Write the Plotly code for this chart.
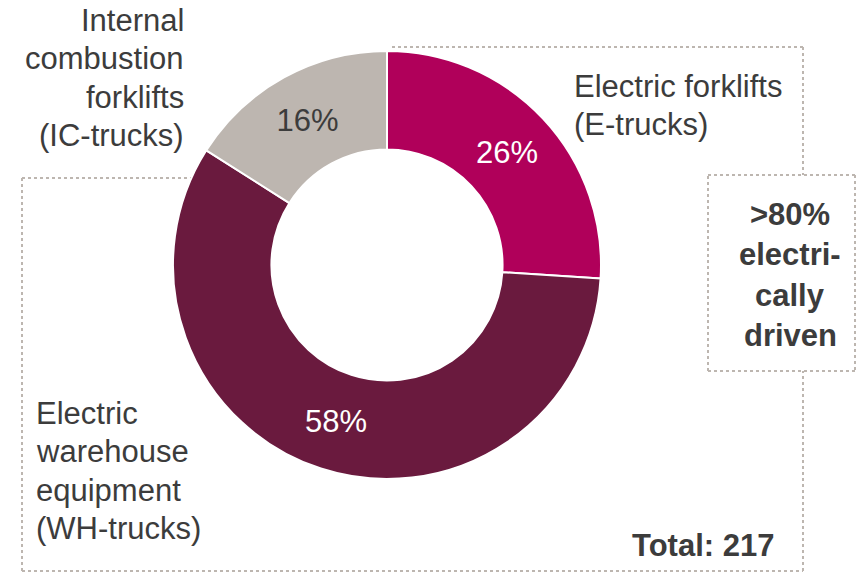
import plotly.graph_objects as go

W, H = 856, 574

categories = ["Electric forklifts (E-trucks)", "Electric warehouse equipment (WH-trucks)",
              "Internal combustion forklifts (IC-trucks)"]
shares = [26, 58, 16]
colors = ["#B0005A", "#6A1A3E", "#BDB6B0"]
label_colors = ["white", "white", "#3C3C3C"]
total_text = "Total: 217"
callout_lines = [">80%", "electri-", "cally", "driven"]
ic_lines = ["Internal", "combustion", "forklifts", "(IC-trucks)"]
e_lines = ["Electric forklifts", "(E-trucks)"]
wh_lines = ["Electric", "warehouse", "equipment", "(WH-trucks)"]

FONT = "Liberation Sans, Arial, sans-serif"
TXT = "#3C3C3C"
LINE = "#BDB6B0"

def px(x):
    return x / W

def py(y):
    return 1 - y / H

cx, cy, r = 387, 265, 214

fig = go.Figure(go.Pie(
    labels=categories,
    values=shares,
    text=[f"{v}%" for v in shares],
    textinfo="text",
    textposition="inside",
    insidetextorientation="horizontal",
    insidetextfont=dict(family=FONT, size=31, color=label_colors),
    marker=dict(colors=colors, line=dict(color="white", width=2)),
    hole=0.54,
    sort=False,
    direction="clockwise",
    rotation=0,
    showlegend=False,
    domain=dict(x=[px(cx - r), px(cx + r)], y=[py(cy + r), py(cy - r)]),
))

shapes = []
def seg(x0, y0, x1, y1):
    shapes.append(dict(type="line", xref="paper", yref="paper",
                       x0=px(x0), y0=py(y0), x1=px(x1), y1=py(y1),
                       line=dict(color=LINE, width=2, dash="dot"), layer="below"))

seg(22, 178, 192, 178)
seg(22, 178, 22, 571)
seg(22, 571, 803, 571)
seg(803, 571, 803, 371)
seg(392, 47, 803, 47)
seg(803, 47, 803, 175)
seg(708, 175, 855, 175)
seg(855, 175, 855, 371)
seg(855, 371, 708, 371)
seg(708, 371, 708, 175)

annotations = []
def txt(s, x, y, anchor, bold=False):
    annotations.append(dict(text=f"<b>{s}</b>" if bold else s, x=px(x), y=py(y),
                            xref="paper", yref="paper", xanchor=anchor, yanchor="middle",
                            showarrow=False, font=dict(family=FONT, size=31, color=TXT)))

for i, s in enumerate(ic_lines):
    txt(s, 186, 20 + 38.5 * i, "right")
for i, s in enumerate(e_lines):
    txt(s, 572, 86 + 38 * i, "left")
for i, s in enumerate(wh_lines):
    txt(s, 34, 413 + 38.5 * i, "left")
for i, s in enumerate(callout_lines):
    txt(s, 790, 214 + 40.5 * i, "center", bold=True)
txt(total_text, 776, 545, "right", bold=True)

fig.update_layout(
    width=W, height=H,
    margin=dict(l=0, r=0, t=0, b=0),
    paper_bgcolor="white", plot_bgcolor="white",
    shapes=shapes, annotations=annotations,
)

fig.write_html("out.html")
